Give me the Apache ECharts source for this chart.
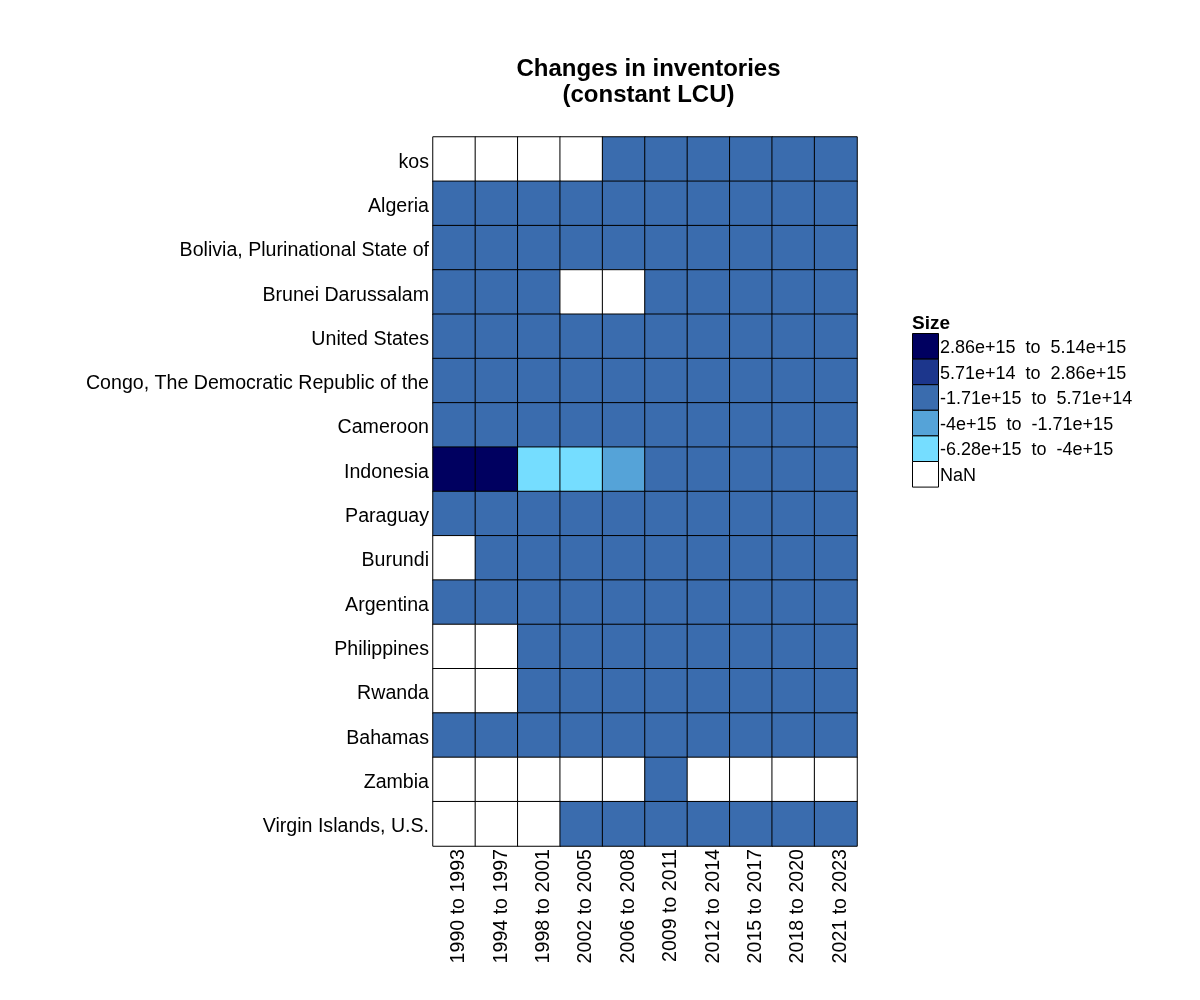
<!DOCTYPE html>
<html><head><meta charset="utf-8">
<style>html,body{margin:0;padding:0;background:#fff}#c{width:1200px;height:1000px}</style>
<script src="https://cdn.jsdelivr.net/npm/echarts@6/dist/echarts.min.js"></script>
</head><body><div id="c"></div>
<script>
const periods = ["1990 to 1993","1994 to 1997","1998 to 2001","2002 to 2005","2006 to 2008","2009 to 2011","2012 to 2014","2015 to 2017","2018 to 2020","2021 to 2023"];
const countries = ["kos","Algeria","Bolivia, Plurinational State of","Brunei Darussalam","United States","Congo, The Democratic Republic of the","Cameroon","Indonesia","Paraguay","Burundi","Argentina","Philippines","Rwanda","Bahamas","Zambia","Virgin Islands, U.S."];
const legendLabels = ["2.86e+15  to  5.14e+15","5.71e+14  to  2.86e+15","-1.71e+15  to  5.71e+14","-4e+15  to  -1.71e+15","-6.28e+15  to  -4e+15","NaN"];
const legendColors = ["#000060","#1C368C","#3A6CAE","#55A3D8","#75DDFF","#FFFFFF"];
// class index into legendLabels, per country row and period column
const classes = [
 [5,5,5,5,2,2,2,2,2,2],
 [2,2,2,2,2,2,2,2,2,2],
 [2,2,2,2,2,2,2,2,2,2],
 [2,2,2,5,5,2,2,2,2,2],
 [2,2,2,2,2,2,2,2,2,2],
 [2,2,2,2,2,2,2,2,2,2],
 [2,2,2,2,2,2,2,2,2,2],
 [0,0,4,4,3,2,2,2,2,2],
 [2,2,2,2,2,2,2,2,2,2],
 [5,2,2,2,2,2,2,2,2,2],
 [2,2,2,2,2,2,2,2,2,2],
 [5,5,2,2,2,2,2,2,2,2],
 [5,5,2,2,2,2,2,2,2,2],
 [2,2,2,2,2,2,2,2,2,2],
 [5,5,5,5,5,2,5,5,5,5],
 [5,5,5,2,2,2,2,2,2,2]
];
const cellData = [];
classes.forEach((r,i)=>r.forEach((k,j)=>cellData.push([j,i,k])));
const font = "Liberation Sans";
const chart = echarts.init(document.getElementById('c'),null,{renderer:'canvas'});
chart.setOption({
 animation:false,
 backgroundColor:'#fff',
 textStyle:{fontFamily:font},
 title:{text:"Changes in inventories\n(constant LCU)",left:643.5,top:51,textAlign:'center',
   textStyle:{fontFamily:font,fontSize:24,fontWeight:'bold',color:'#000',lineHeight:26.5}},
 grid:{left:433,top:137,width:424,height:709,containLabel:false},
 xAxis:{type:'category',data:periods,position:'bottom',
   axisLine:{show:false},axisTick:{show:false},splitLine:{show:false},
   axisLabel:{rotate:90,interval:0,fontSize:19.6,color:'#000',margin:3,verticalAlign:'top',lineHeight:9,fontFamily:font}},
 yAxis:{type:'category',data:countries,inverse:true,
   axisLine:{show:false},axisTick:{show:false},splitLine:{show:false},
   axisLabel:{interval:0,fontSize:19.6,color:'#000',margin:4,verticalAlign:'top',lineHeight:6,fontFamily:font}},
 visualMap:{show:false,type:'piecewise',dimension:2,seriesIndex:0,
   pieces:legendColors.map((c,i)=>({value:i,color:c}))},
 series:[{type:'heatmap',data:cellData,itemStyle:{borderColor:'#000',borderWidth:1},emphasis:{disabled:true}}],
 graphic:[{type:'text',left:912,top:314,style:{text:'Size',font:'bold 19px "Liberation Sans"',fill:'#000'}}]
   .concat(legendLabels.flatMap((t,i)=>[
     {type:'rect',shape:{x:912.5,y:333.5+i*25.6,width:26,height:25.6},style:{fill:legendColors[i],stroke:'#000',lineWidth:1}},
     {type:'text',left:940,top:339+i*25.6,style:{text:t,font:'18px "Liberation Sans"',fill:'#000'}}
   ]))
});
</script></body></html>
